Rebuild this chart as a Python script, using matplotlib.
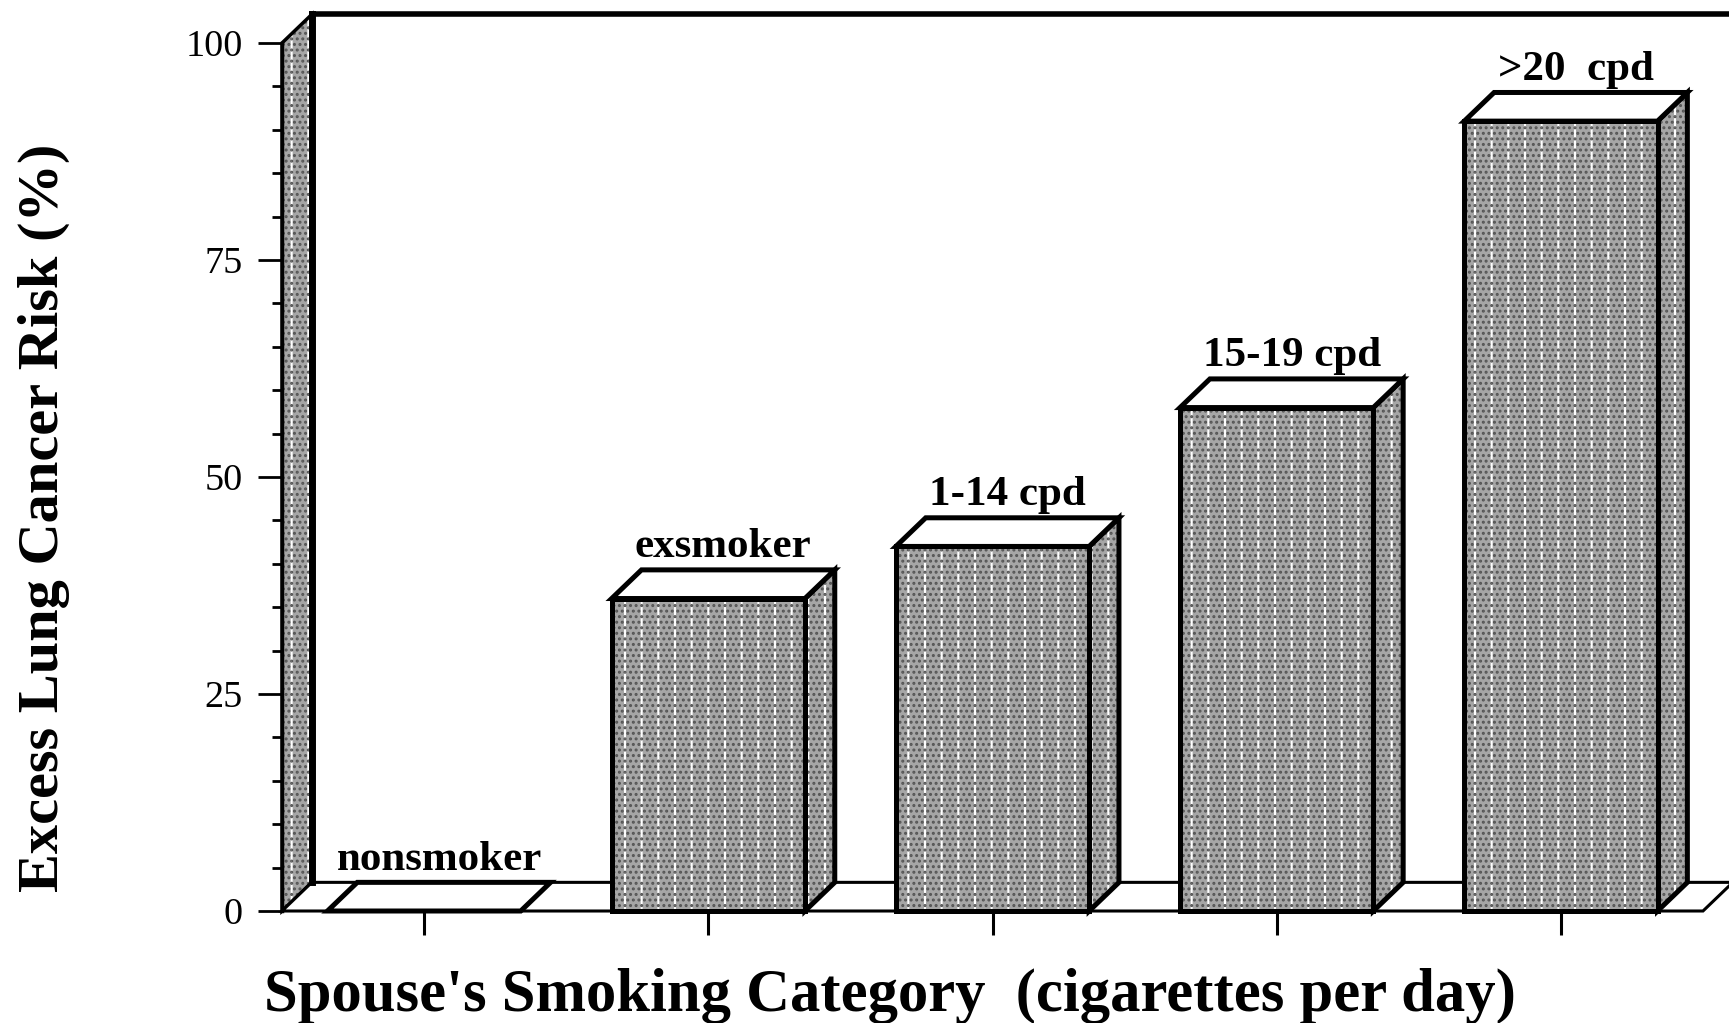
import matplotlib
matplotlib.use("Agg")
import matplotlib.pyplot as plt
from matplotlib.patches import Polygon

categories = ["nonsmoker", "exsmoker", "1-14 cpd", "15-19 cpd", ">20  cpd"]
risk = [0, 36, 42, 58, 91]
yticks = [0, 25, 50, 75, 100]

plt.rcParams['font.family'] = ['Liberation Serif', 'DejaVu Serif']
plt.rcParams['hatch.linewidth'] = 1.4

fig = plt.figure(figsize=(17.29, 10.23), dpi=100)
ax = fig.add_axes([282 / 1729, 112 / 1023, 1421 / 1729, 868 / 1023])
ax.set_xlim(-0.5, 4.5)
ax.set_ylim(0, 100)

dx, dy = 0.105, 3.3   # depth offset of the 3-D look
bw = 0.68
GRAY = '#a6a6a6'
LW = 3.6


def textured(pts, z=2, lw=LW):
    # gray fill with white pinstripes and dark dots, then black outline
    ax.add_patch(Polygon(pts, closed=True, facecolor=GRAY, edgecolor='none',
                         lw=0, zorder=z, clip_on=False))
    ax.add_patch(Polygon(pts, closed=True, facecolor='none', edgecolor='white',
                         hatch='|', lw=0, zorder=z, clip_on=False))
    ax.add_patch(Polygon(pts, closed=True, facecolor='none', edgecolor='#555555',
                         hatch='...', lw=0, zorder=z, clip_on=False))
    ax.add_patch(Polygon(pts, closed=True, facecolor='none', edgecolor='black',
                         lw=lw, zorder=z + 0.1, clip_on=False, joinstyle='miter'))


def flat(pts, z=2, lw=LW, fc='white'):
    ax.add_patch(Polygon(pts, closed=True, facecolor=fc, edgecolor='black',
                         lw=lw, zorder=z, clip_on=False, joinstyle='miter'))


x0, x1 = -0.5, 4.5

# left wall
textured([(x0, 0), (x0, 100), (x0 + dx, 100 + dy), (x0 + dx, dy)], z=1, lw=2.5)
ax.plot([x0 + dx, x0 + dx], [dy, 100 + dy], color='black', lw=5, zorder=1.5,
        clip_on=False, solid_capstyle='projecting')
ax.plot([x0 + dx, x1 + dx], [100 + dy, 100 + dy], color='black', lw=4,
        zorder=1.5, clip_on=False, solid_capstyle='projecting')

# floor
flat([(x0, 0), (x1, 0), (x1 + dx, dy), (x0 + dx, dy)], z=1.2, lw=2.2)

# bars
for i, v in enumerate(risk):
    l, r = i - bw / 2, i + bw / 2
    if v > 0:
        textured([(l, 0), (r, 0), (r, v), (l, v)], z=3)
        textured([(r, 0), (r + dx, dy), (r + dx, v + dy), (r, v)], z=2.8)
    flat([(l, v), (r, v), (r + dx, v + dy), (l + dx, v + dy)], z=3.2)
    ax.annotate(categories[i], (i + dx * 0.5, v + dy), xytext=(0, 9),
                textcoords='offset points', ha='center', va='baseline',
                fontsize=31, fontweight='bold', zorder=5, annotation_clip=False)

for s in ax.spines.values():
    s.set_visible(False)
ax.plot([x0, x0], [0, 100], color='black', lw=2.5, zorder=1.6, clip_on=False)

ax.set_yticks(yticks)
ax.set_yticks(range(0, 101, 5), minor=True)
ax.tick_params(axis='y', which='major', direction='out', length=17, width=2,
               labelsize=27.5, pad=11)
ax.tick_params(axis='y', which='minor', direction='out', length=7, width=2)
ax.set_xticks(range(len(categories)))
ax.set_xticklabels([])
ax.tick_params(axis='x', direction='out', length=17, width=2.2)

fig.text(44 / 1729, 0.494, "Excess Lung Cancer Risk (%)", rotation=90,
         fontsize=42, fontweight='bold', ha='center', va='center')
fig.text(0.515, 0.012, "Spouse's Smoking Category  (cigarettes per day)",
         fontsize=43.7, fontweight='bold', ha='center', va='baseline')

fig.savefig("out.png", dpi=100)
